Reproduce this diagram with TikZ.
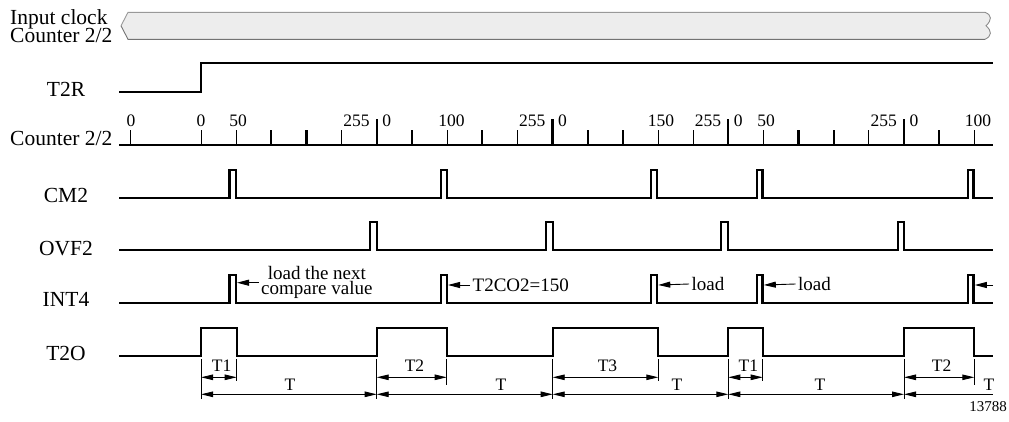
\documentclass[tikz,border=0pt]{standalone}
\usepackage{fontspec}
\setmainfont{Liberation Serif}
\usetikzlibrary{arrows.meta}
\begin{document}
\begin{tikzpicture}[x=1pt,y=-1pt,
  sig/.style={line width=2.2pt, line join=miter},
  thinl/.style={line width=0.9pt},
  lbl/.style={font=\fontsize{21.5}{21.5}\selectfont, inner sep=0pt, anchor=base},
  num/.style={font=\fontsize{17.5}{17.5}\selectfont, inner sep=0pt, anchor=base},
  ann/.style={font=\fontsize{19}{15}\selectfont, inner xsep=2.5pt, inner ysep=0pt, anchor=west},
  dimlbl/.style={font=\fontsize{17.5}{17.5}\selectfont, inner sep=0pt, anchor=base},
  arr/.style={line width=0.9pt, -{Triangle[length=12pt,width=6pt]}},
  dimarr/.style={line width=0.9pt, {Triangle[length=12pt,width=5.5pt]}-{Triangle[length=12pt,width=5.5pt]}},
  dimhalf/.style={line width=0.9pt, {Triangle[length=12pt,width=5.5pt]}-},
]
\useasboundingbox (0,0) rectangle (1009,421);

% ---------- Input clock ----------
\node[lbl, anchor=base west] (clkA) at (10,24.5) {Input clock};
\node[lbl, anchor=base west] (clkB) at (10,42.3) {Counter 2/2};
\path[fill=black!7] (128,12.3) -- (985,12.3)
  .. controls (992,15) and (992,20) .. (986,25.8)
  .. controls (992,31) and (992,36) .. (985,39.3)
  -- (128,39.3) -- (121,25.8) -- cycle;
\draw[black!40, line width=0.9pt] (985,12.3) -- (128,12.3) -- (121,25.8);
\draw[black!55, line width=0.9pt] (121,25.8) -- (128,39.3) -- (985,39.3);
\draw[black!45, line width=0.9pt] (985,12.3)
  .. controls (992,15) and (992,20) .. (986,25.8)
  .. controls (992,31) and (992,36) .. (985,39.3);

% ---------- T2R ----------
\node[lbl] (t2r) at (66,96.7) {T2R};
\draw[sig] (119,91.7) -- (201,91.7) -- (201,63.3) -- (993,63.3);

% ---------- Counter axis ----------
\node[lbl, anchor=base west] (cnt) at (10,145) {Counter 2/2};
\draw[line width=2.2pt] (119,145) -- (993,145);
\draw[thinl] (130.5,130) -- (130.5,145);
\foreach \k in {0,1,4,7,9,13,14,16,19,22}
  \draw[thinl] ({201+35.15*\k},130) -- ({201+35.15*\k},145);
\foreach \k in {2,3,6,8,11,12,17,18,21}
  \draw[line width=2.2pt] ({201+35.15*\k},130) -- ({201+35.15*\k},145);
\foreach \k in {5,10,15,20}{
  \draw[line width=2.2pt] ({201+35.15*\k},119) -- ({201+35.15*\k},145);
  \node[num, anchor=base east] (nA\k) at ({201+35.15*\k-7},126) {255};
  \node[num, anchor=base west] (nB\k) at ({201+35.15*\k+5.5},126) {0};
}
\node[num] (z0) at (131,126) {0};
\node[num] (z1) at (201,126) {0};
\node[num] (f1) at (238,126) {50};
\node[num] (h1) at (451.5,126) {100};
\node[num] (h2) at (661,126) {150};
\node[num] (f2) at (766,126) {50};
\node[num] (h3) at (978,126) {100};

% ---------- CM2 ----------
\node[lbl] (cm2) at (66,202.3) {CM2};
\draw[sig] (119,197.7)
  -- (229.5,197.7) -- (229.5,170) -- (235.7,170) -- (235.7,197.7)
  -- (441,197.7) -- (441,170) -- (446.7,170) -- (446.7,197.7)
  -- (651,197.7) -- (651,170) -- (657,170) -- (657,197.7)
  -- (756.7,197.7) -- (756.7,170) -- (762.5,170) -- (762.5,197.7)
  -- (967.7,197.7) -- (967.7,170) -- (973.5,170) -- (973.5,197.7)
  -- (993,197.7);

% ---------- OVF2 ----------
\node[lbl] (ovf2) at (66,255) {OVF2};
\draw[sig] (119,250)
  -- (370,250) -- (370,221.7) -- (376.7,221.7) -- (376.7,250)
  -- (546,250) -- (546,221.7) -- (552.7,221.7) -- (552.7,250)
  -- (721,250) -- (721,221.7) -- (727.7,221.7) -- (727.7,250)
  -- (897.7,250) -- (897.7,221.7) -- (904.3,221.7) -- (904.3,250)
  -- (993,250);

% ---------- INT4 ----------
\node[lbl] (int4) at (66,306.7) {INT4};
\draw[sig] (119,303.3)
  -- (229.5,303.3) -- (229.5,275) -- (235.7,275) -- (235.7,303.3)
  -- (441,303.3) -- (441,275) -- (446.7,275) -- (446.7,303.3)
  -- (651,303.3) -- (651,275) -- (657,275) -- (657,303.3)
  -- (756.7,303.3) -- (756.7,275) -- (762.5,275) -- (762.5,303.3)
  -- (967.7,303.3) -- (967.7,275) -- (973.5,275) -- (973.5,303.3)
  -- (993,303.3);
\coordinate (p1) at (237,282.7);
\coordinate (p2) at (448,285);
\coordinate (p3) at (658.3,285);
\coordinate (p4) at (763.8,285);
\coordinate (p5) at (974.8,285);
\coordinate (e5) at (993,285);
\node[ann, align=center] (a1) at (258.5,282.7) {load the next\\compare value};
\node[ann] (a2) at (470,285) {T2CO2=150};
\node[ann] (a3) at (689,284) {load};
\node[ann] (a4) at (795.5,284) {load};
\draw[arr] (a1.west) -- (p1);
\draw[arr] (a2.west) -- (p2);
\draw[arr] (a3.west) -- (p3);
\draw[arr] (a4.west) -- (p4);
\draw[arr] (e5) -- (p5);

% ---------- T2O ----------
\node[lbl] (t2o) at (66,360) {T2O};
\draw[sig] (119,355.7)
  -- (201,355.7) -- (201,328.3) -- (236.7,328.3) -- (236.7,355.7)
  -- (376.7,355.7) -- (376.7,328.3) -- (446.7,328.3) -- (446.7,355.7)
  -- (552.7,355.7) -- (552.7,328.3) -- (658.3,328.3) -- (658.3,355.7)
  -- (728.3,355.7) -- (728.3,328.3) -- (762.7,328.3) -- (762.7,355.7)
  -- (904,355.7) -- (904,328.3) -- (974.3,328.3) -- (974.3,355.7)
  -- (993,355.7);

% ---------- dimensions ----------
\foreach \x in {201,376.7,552.7,728.3,904}
  \draw[thinl] (\x,359) -- (\x,398.5);
\foreach \x in {236.7,658.3,762.7}
  \draw[thinl] (\x,359) -- (\x,380.5);
\foreach \x in {446.7,974.3}
  \draw[thinl] (\x,359) -- (\x,385);

\draw[dimarr] (201,377.3) -- (236.7,377.3);
\draw[dimarr] (376.7,377.3) -- (446.7,377.3);
\draw[dimarr] (552.7,377.3) -- (658.3,377.3);
\draw[dimarr] (728.3,377.3) -- (762.7,377.3);
\draw[dimarr] (904,377.3) -- (974.3,377.3);
\node[dimlbl] (d1) at (221.7,371.7) {T1};
\node[dimlbl] (d2) at (414.5,371.7) {T2};
\node[dimlbl] (d3) at (607.5,371.7) {T3};
\node[dimlbl] (d4) at (748.3,371.7) {T1};
\node[dimlbl] (d5) at (941.7,371.7) {T2};

\draw[dimarr] (201,394.3) -- (376.7,394.3);
\draw[dimarr] (376.7,394.3) -- (552.7,394.3);
\draw[dimarr] (552.7,394.3) -- (728.3,394.3);
\draw[dimarr] (728.3,394.3) -- (904,394.3);
\draw[dimhalf] (904,394.3) -- (993,394.3);
\node[dimlbl] (D1) at (290,390.7) {T};
\node[dimlbl] (D2) at (501,390.7) {T};
\node[dimlbl] (D3) at (677,390.7) {T};
\node[dimlbl] (D4) at (820,390.7) {T};
\node[dimlbl] (D5) at (989,390.7) {T};

\node[font=\fontsize{15}{15}\selectfont, inner sep=0pt, anchor=base east] (fig) at (1007,411.7) {13788};
\end{tikzpicture}
\end{document}
